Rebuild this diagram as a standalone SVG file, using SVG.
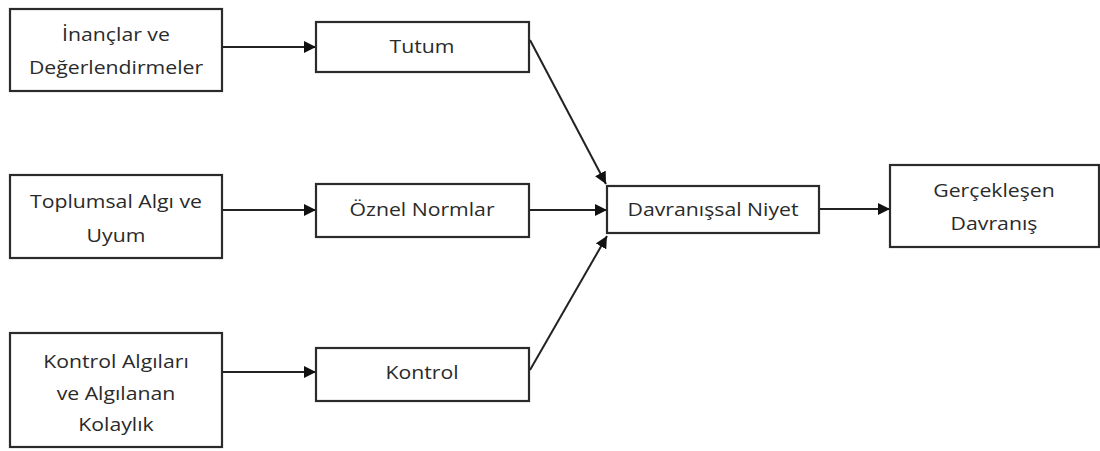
<svg xmlns="http://www.w3.org/2000/svg" width="1100" height="451" viewBox="0 0 1100 451">
  <style>
    .box { fill: #ffffff; stroke: #2b2b2b; stroke-width: 2.2; }
    .lbl { font-family: "Open Sans", "Liberation Sans", sans-serif; font-size: 18px; fill: #2a2a2a; text-anchor: middle; }
    .edge { fill: none; stroke: #222222; stroke-width: 2; marker-end: url(#head); }
  </style>
  <defs>
    <marker id="head" viewBox="0 0 10 10" refX="10" refY="5" markerWidth="6" markerHeight="6" markerUnits="strokeWidth" orient="auto">
      <path d="M0,0 L10,5 L0,10 Z" fill="#111111"/>
    </marker>
  </defs>
  <rect width="1100" height="451" fill="#ffffff"/>

  <!-- connectors -->
  <g id="connectors">
    <line class="edge" x1="222" y1="47" x2="316" y2="47"/>
    <line class="edge" x1="222" y1="210" x2="316" y2="210"/>
    <line class="edge" x1="222" y1="372" x2="316" y2="372"/>
    <line class="edge" x1="530" y1="40" x2="606" y2="184"/>
    <line class="edge" x1="529" y1="210" x2="607" y2="210"/>
    <line class="edge" x1="530" y1="370" x2="607" y2="236"/>
    <line class="edge" x1="819" y1="209" x2="890" y2="209"/>
  </g>

  <!-- source boxes -->
  <g id="inanclar">
    <rect class="box" x="10" y="9" width="212" height="82"/>
    <text class="lbl" transform="translate(116,41) scale(1.18,1)">İnançlar ve</text>
    <text class="lbl" transform="translate(116,74) scale(1.18,1)">Değerlendirmeler</text>
  </g>
  <g id="toplumsal">
    <rect class="box" x="10" y="175" width="212" height="83"/>
    <text class="lbl" transform="translate(116,208) scale(1.18,1)">Toplumsal Algı ve</text>
    <text class="lbl" transform="translate(116,242) scale(1.18,1)">Uyum</text>
  </g>
  <g id="kontrol-algilari">
    <rect class="box" x="10" y="333" width="212" height="114"/>
    <text class="lbl" transform="translate(116,368) scale(1.18,1)">Kontrol Algıları</text>
    <text class="lbl" transform="translate(116,400) scale(1.18,1)">ve Algılanan</text>
    <text class="lbl" transform="translate(116,431) scale(1.18,1)">Kolaylık</text>
  </g>

  <!-- middle column -->
  <g id="tutum">
    <rect class="box" x="316" y="22" width="213" height="50"/>
    <text class="lbl" transform="translate(422,53) scale(1.18,1)">Tutum</text>
  </g>
  <g id="oznel-normlar">
    <rect class="box" x="316" y="184" width="213" height="53"/>
    <text class="lbl" transform="translate(422,216) scale(1.18,1)">Öznel Normlar</text>
  </g>
  <g id="kontrol">
    <rect class="box" x="316" y="348" width="213" height="53"/>
    <text class="lbl" transform="translate(422,379) scale(1.18,1)">Kontrol</text>
  </g>

  <!-- outcome -->
  <g id="davranissal-niyet">
    <rect class="box" x="607" y="186" width="212" height="47"/>
    <text class="lbl" transform="translate(713,216) scale(1.18,1)">Davranışsal Niyet</text>
  </g>
  <g id="gerceklesen-davranis">
    <rect class="box" x="890" y="165" width="209" height="82"/>
    <text class="lbl" transform="translate(994,197) scale(1.18,1)">Gerçekleşen</text>
    <text class="lbl" transform="translate(994,230) scale(1.18,1)">Davranış</text>
  </g>
</svg>
